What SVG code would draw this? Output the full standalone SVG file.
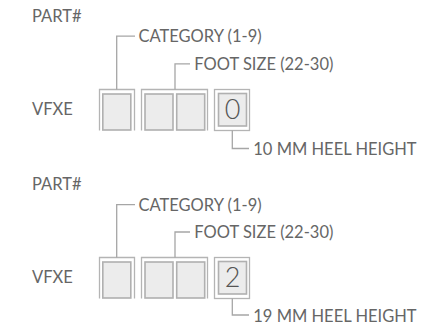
<svg xmlns="http://www.w3.org/2000/svg" width="427" height="330" viewBox="0 0 427 330">
<style>
  .t { font-family: Lato, "Open Sans", sans-serif; font-size: 16.5px; fill: #666; }
  .d { font-family: Lato, "Open Sans", sans-serif; font-size: 27px; font-weight: 300; fill: #555; text-anchor: middle; }
  .br { fill: none; stroke: #b4b4b4; stroke-width: 1.3; }
  .box { fill: #ececec; stroke: #b0b0b0; stroke-width: 1.6; }
  .c { fill: none; stroke: #a6a6a6; stroke-width: 1.3; }
</style>
<rect width="427" height="330" fill="#fff"/>
<g id="diagram1">
  <g id="labels1">
    <text class="t" x="32" y="22">PART#</text>
    <text class="t" x="32" y="115">VFXE</text>
  </g>
  <g id="category1">
    <path class="br" d="M99.5,130.5 V89.5 H134.5 V130.5"/>
    <rect class="box" x="102.8" y="94" width="28" height="36"/>
  </g>
  <g id="footsize1">
    <path class="br" d="M141.5,130.5 V89.5 H207.5 V130.5"/>
    <rect class="box" x="145" y="94" width="28" height="36"/>
    <rect class="box" x="176.7" y="94" width="28" height="36"/>
  </g>
  <g id="heel1">
    <rect class="br" x="214.5" y="89.5" width="35" height="41"/>
    <rect class="box" x="218.5" y="93.5" width="28" height="32.5"/>
    <text class="d" x="232.5" y="118.5">0</text>
  </g>
  <g id="connectors1">
    <path class="c" d="M116.7,89.5 V36.2 H135"/>
    <path class="c" d="M175,89.5 V63.8 H190"/>
    <path class="c" d="M232.3,130.5 V148.5 H249"/>
  </g>
  <g id="annotations1">
    <text class="t" x="138.5" y="42.3">CATEGORY (1-9)</text>
    <text class="t" x="194.3" y="70">FOOT SIZE (22-30)</text>
    <text class="t" x="253.3" y="155.3">10 MM HEEL HEIGHT</text>
  </g>
</g>
<g id="diagram2">
  <g id="labels2">
    <text class="t" x="32" y="190">PART#</text>
    <text class="t" x="32" y="283">VFXE</text>
  </g>
  <g id="category2">
    <path class="br" d="M99.5,298.5 V257.5 H134.5 V298.5"/>
    <rect class="box" x="102.8" y="262" width="28" height="36"/>
  </g>
  <g id="footsize2">
    <path class="br" d="M141.5,298.5 V257.5 H207.5 V298.5"/>
    <rect class="box" x="145" y="262" width="28" height="36"/>
    <rect class="box" x="176.7" y="262" width="28" height="36"/>
  </g>
  <g id="heel2">
    <rect class="br" x="214.5" y="257.5" width="35" height="41"/>
    <rect class="box" x="218.5" y="261.5" width="28" height="32.5"/>
    <text class="d" x="232.5" y="286.5">2</text>
  </g>
  <g id="connectors2">
    <path class="c" d="M116.7,257.5 V204.7 H135"/>
    <path class="c" d="M175,257.5 V232 H190"/>
    <path class="c" d="M232.3,298.5 V315 H249"/>
  </g>
  <g id="annotations2">
    <text class="t" x="138.5" y="210.7">CATEGORY (1-9)</text>
    <text class="t" x="194.3" y="238">FOOT SIZE (22-30)</text>
    <text class="t" x="253.3" y="321.7">19 MM HEEL HEIGHT</text>
  </g>
</g>
</svg>
